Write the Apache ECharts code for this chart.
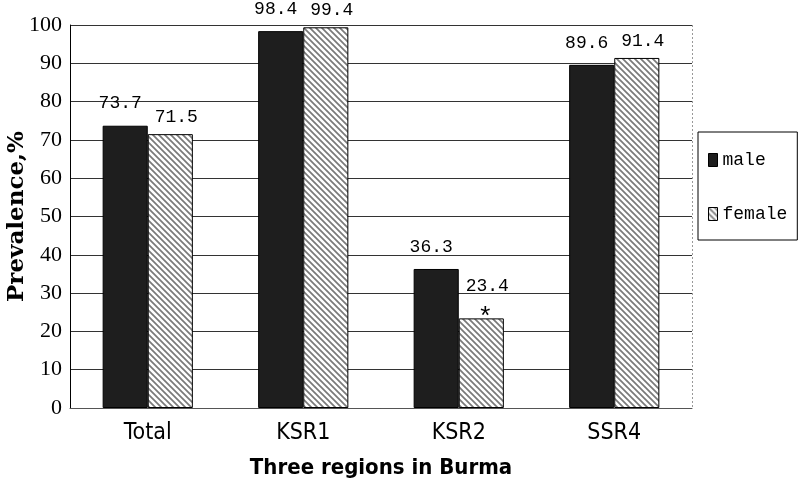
<!DOCTYPE html>
<html>
<head>
<meta charset="utf-8">
<script src="https://cdn.jsdelivr.net/npm/echarts@6/dist/echarts.min.js"></script>
<style>
  html, body { margin: 0; padding: 0; background: #fff; }
  #chart { width: 799px; height: 480px; }
</style>
</head>
<body>
<div id="chart"></div>
<script>
  // data
  var regions = ['Total', 'KSR1', 'KSR2', 'SSR4'];
  var maleValues = [73.7, 98.4, 36.3, 89.6];
  var femaleValues = [71.5, 99.4, 23.4, 91.4];
  var femaleMarks = ['', '', '*', ''];

  // diagonal hatch for the female bars
  function makeHatch() {
    var s = 6;
    var c = document.createElement('canvas');
    c.width = s; c.height = s;
    var ctx = c.getContext('2d');
    ctx.fillStyle = '#fff';
    ctx.fillRect(0, 0, s, s);
    ctx.strokeStyle = '#7a7a7a';
    ctx.lineWidth = 1.7;
    ctx.beginPath();
    ctx.moveTo(-1, -1); ctx.lineTo(s + 1, s + 1);
    ctx.moveTo(-s - 1, -1); ctx.lineTo(1, s + 1);
    ctx.moveTo(s - 1, -1); ctx.lineTo(2 * s + 1, s + 1);
    ctx.stroke();
    return c;
  }
  var hatch = { image: makeHatch(), repeat: 'repeat' };

  var myChart = echarts.init(document.getElementById('chart'));
  var labelFont = 'Liberation Mono, DejaVu Sans Mono, monospace';
  var catFont = 'DejaVu Sans Condensed, DejaVu Sans';

  // asterisk marks sit just above the flagged female bars
  var markData = [];
  femaleMarks.forEach(function (m, i) {
    if (m) markData.push({ coord: [regions[i], femaleValues[i]], value: m });
  });

  var option = {
    animation: false,
    grid: { left: 70, right: 107, top: 25, bottom: 72, outerBoundsMode: 'none', containLabel: false },
    legend: {
      orient: 'vertical',
      left: 698, top: 132,
      padding: [19, 10, 17, 10],
      itemGap: 36,
      itemWidth: 9, itemHeight: 13,
      itemStyle: { borderColor: '#000', borderWidth: 1 },
      borderColor: '#000', borderWidth: 1,
      textStyle: { fontFamily: labelFont, fontSize: 18, color: '#000' },
      data: [{ name: 'male', icon: 'rect' }, { name: 'female', icon: 'rect' }]
    },
    xAxis: {
      type: 'category',
      data: regions,
      name: 'Three regions in Burma',
      nameLocation: 'middle',
      nameGap: 49,
      nameMoveOverlap: false,
      nameTextStyle: { fontFamily: catFont, fontWeight: 'bold', fontSize: 22, color: '#000' },
      axisLine: { lineStyle: { color: '#555', width: 1 } },
      axisTick: { inside: true, length: 6, lineStyle: { color: '#000' } },
      axisLabel: { fontFamily: catFont, fontSize: 23, color: '#000', margin: 14 },
      splitLine: { show: false }
    },
    yAxis: {
      type: 'value',
      min: 0, max: 100, interval: 10,
      name: 'Prevalence,%',
      nameLocation: 'middle',
      nameGap: 41,
      nameMoveOverlap: false,
      nameTextStyle: { fontFamily: 'DejaVu Serif', fontWeight: 'bold', fontSize: 23, color: '#000' },
      axisLine: { show: true, lineStyle: { color: '#000' } },
      axisTick: { show: false },
      axisLabel: { fontFamily: 'Liberation Serif', fontSize: 22, color: '#000', margin: 8 },
      splitLine: { show: true, lineStyle: { color: '#333', width: 1 } }
    },
    series: [
      {
        name: 'male',
        type: 'bar',
        data: maleValues,
        barWidth: '29%',
        barGap: '0%',
        itemStyle: { color: '#1e1e1e', borderColor: '#000', borderWidth: 1 },
        label: {
          show: true, position: 'top', distance: 13, offset: [-5, 0],
          fontFamily: labelFont, fontSize: 18, color: '#000'
        }
      },
      {
        name: 'female',
        type: 'bar',
        data: femaleValues,
        barWidth: '29%',
        itemStyle: { color: hatch, borderColor: '#000', borderWidth: 1 },
        label: {
          show: true, position: 'top', distance: 8, offset: [6, 0],
          fontFamily: labelFont, fontSize: 18, color: '#000',
          formatter: function (p) {
            var m = femaleMarks[p.dataIndex];
            return m ? '{v|' + p.value.toFixed(1) + '}\n{g| }' : p.value.toFixed(1);
          },
          rich: {
            v: { fontFamily: labelFont, fontSize: 18, color: '#000', lineHeight: 20 },
            g: { fontSize: 10, lineHeight: 14 }
          }
        },
        markPoint: {
          symbol: 'rect',
          symbolSize: 0,
          data: markData,
          label: {
            show: true, position: 'inside', offset: [4, 0],
            formatter: '{c}',
            fontFamily: labelFont, fontSize: 26, color: '#000'
          }
        }
      }
    ],
    graphic: [
      {
        type: 'line',
        shape: { x1: 692.5, y1: 25, x2: 692.5, y2: 408 },
        style: { stroke: '#999', lineWidth: 1, lineDash: [2, 2] }
      }
    ]
  };

  myChart.setOption(option);
</script>
</body>
</html>
